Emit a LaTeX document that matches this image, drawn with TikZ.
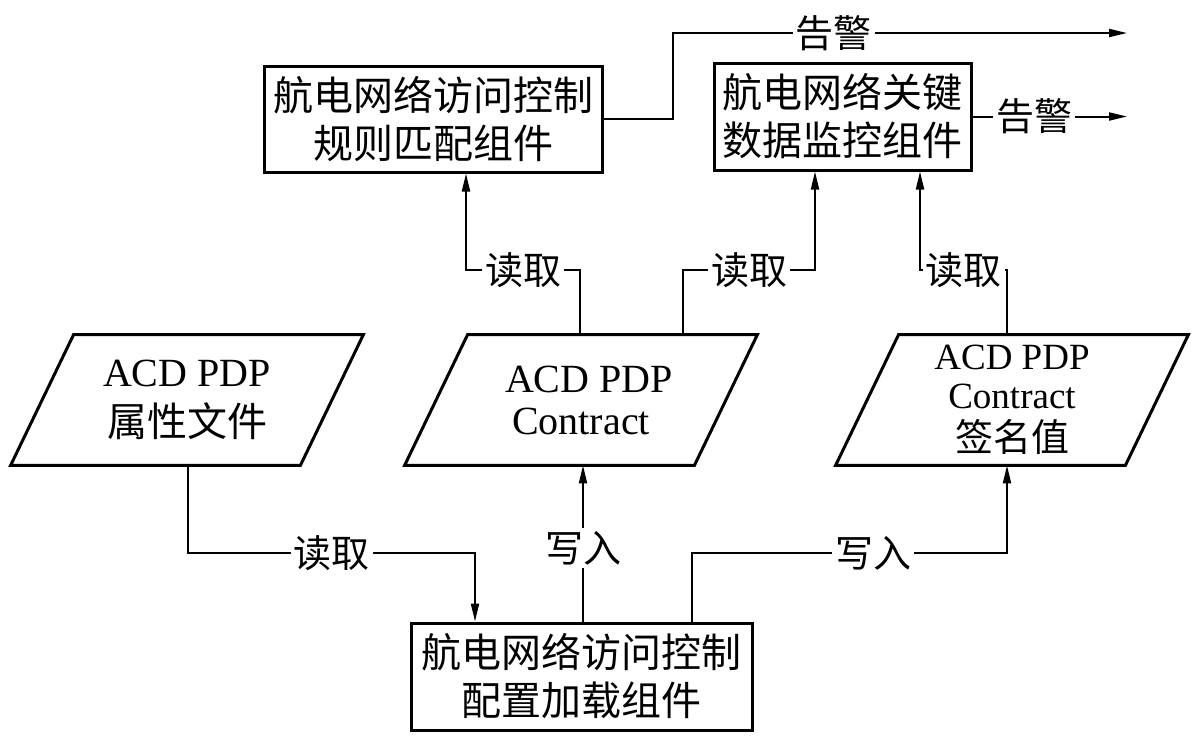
\documentclass[tikz,border=0pt]{standalone}
\usepackage{fontspec}
\setmainfont{Liberation Serif}
\newfontfamily\cjk{Noto Sans CJK SC}
\usetikzlibrary{arrows.meta}
\begin{document}
\begin{tikzpicture}[x=0.5pt,y=-0.5pt,
  font=\fontsize{20}{24}\selectfont,
  boxnode/.style={draw, line width=1.5pt, inner sep=0pt, align=center,
    font=\cjk\fontsize{20}{24}\selectfont},
  paranode/.style={inner sep=0pt, minimum width=144.5pt, minimum height=65pt, align=center},
  paraline/.style={line width=1.5pt, line join=miter},
  conn/.style={line width=1pt},
  arr/.style={conn, -{Triangle[length=9pt,width=4pt]}},
  lbl/.style={fill=white, inner sep=1.5pt, font=\cjk\fontsize{19}{19}\selectfont}
]
\useasboundingbox (0,0) rectangle (1200,744);

% boxes
\node[boxnode, minimum width=169pt, minimum height=53pt] (b1) at (433,119) {航电网络访问控制\\规则匹配组件};
\node[boxnode, minimum width=128.5pt, minimum height=53.5pt] (b2) at (842.5,116.5) {航电网络关键\\数据监控组件};
\node[boxnode, minimum width=170.5pt, minimum height=53.5pt] (b3) at (581.5,676.5) {航电网络访问控制\\配置加载组件};

% parallelograms
\node[paranode] (p1) at (187,400) {ACD PDP\\[1pt]{\cjk 属性文件}};
\node[paranode] (p2) at (581,400) {\hspace*{8pt}ACD PDP\\[-3pt]Contract};
\node[paranode, font=\fontsize{18.5}{19.5}\selectfont] (p3) at (1012,400) {ACD PDP\\[0pt]Contract\\[2pt]{\cjk\fontsize{19}{19}\selectfont 签名值}};
\foreach \n in {p1,p2,p3}
  \draw[paraline] ([xshift=15.75pt]\n.north west) -- ([xshift=15.75pt]\n.north east)
    -- ([xshift=-15.75pt]\n.south east) -- ([xshift=-15.75pt]\n.south west) -- cycle;

% free ends
\coordinate (a1) at (1127,33);
\coordinate (a2) at (1127,116.5);

% alarms
\draw[arr] (b1.east) -| (673,33) -- node[lbl, pos=0.354] {告警} (a1);
\draw[arr] (b2.east) -- node[lbl, pos=0.40] {告警} (a2);

% reads to top boxes
\draw[arr] (p2.north -| 580,0) -- (580,270) -- node[lbl] {读取} (466,270) -- (b1.south -| 466,0);
\draw[arr] (p2.north -| 683,0) -- (683,270) -- node[lbl] {读取} (815,270) -- (b2.south -| 815,0);
\draw[arr] (p3.north -| 1007,0) -- (1007,270) -- node[lbl] {读取} (920,270) -- (b2.south -| 920,0);

% bottom connectors
\draw[arr] (p1.south -| 188,0) -- (188,553) -- node[lbl] {读取} (475,553) -- (b3.north -| 475,0);
\draw[arr] (b3.north -| 583,0) -- node[lbl, pos=0.47] {写入} (p2.south -| 583,0);
\draw[arr] (b3.north -| 692,0) -- (692,553) -- node[lbl, pos=0.575] {写入} (1007,553) -- (p3.south -| 1007,0);
\end{tikzpicture}
\end{document}
